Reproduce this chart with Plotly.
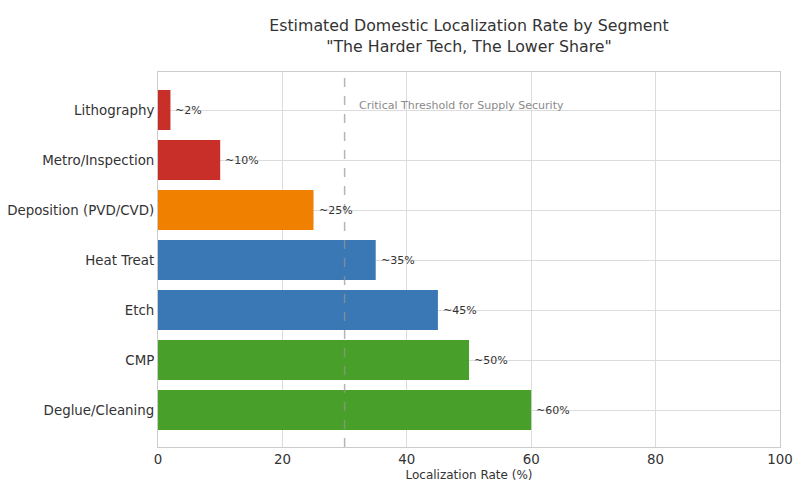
import plotly.graph_objects as go

categories = ["Deglue/Cleaning", "CMP", "Etch", "Heat Treat", "Deposition (PVD/CVD)",
              "Metro/Inspection", "Lithography"]
values = [60, 50, 45, 35, 25, 10, 2]
labels = ["~60%", "~50%", "~45%", "~35%", "~25%", "~10%", "~2%"]
colors = ["#48a02a", "#48a02a", "#3a77b5", "#3a77b5", "#f08000", "#c82f28", "#c82f28"]
x_ticks = [0, 20, 40, 60, 80, 100]
threshold = 30
threshold_label = "Critical Threshold for Supply Security"

FONT = "DejaVu Sans"

fig = go.Figure()
fig.add_trace(go.Bar(
    x=values, y=list(range(len(categories))), orientation="h",
    marker=dict(color=colors, line=dict(width=0)), width=0.8,
    hoverinfo="skip",
))

for i, (v, lab) in enumerate(zip(values, labels)):
    fig.add_annotation(x=v, y=i, text=lab, showarrow=False, xanchor="left",
                       yanchor="middle", xshift=3,
                       font=dict(family=FONT, size=11, color="#333333"))

fig.add_shape(type="line", x0=threshold, x1=threshold, y0=-0.74, y1=6.7,
              xref="x", yref="y", line=dict(color="rgba(150,150,150,0.7)", width=1.5, dash="dash"),
              layer="above")
fig.add_annotation(x=threshold + 2, y=6.1, text=threshold_label, showarrow=False,
                   xanchor="left", yanchor="middle",
                   font=dict(family=FONT, size=11, color="#8a8a8a"))

fig.update_layout(
    width=807, height=492,
    margin=dict(l=158, r=27, t=72, b=45),
    paper_bgcolor="white", plot_bgcolor="white",
    showlegend=False,
    title=dict(text="Estimated Domestic Localization Rate by Segment<br>\"The Harder Tech, The Lower Share\"",
               x=0.5, xref="paper", xanchor="center", y=0.937, yanchor="middle",
               font=dict(family=FONT, size=15.8, color="#333333")),
    font=dict(family=FONT, color="#333333"),
)
fig.update_xaxes(range=[0, 100], tickvals=x_ticks, ticktext=[str(t) for t in x_ticks],
                 showgrid=True, gridcolor="#dcdcdc", gridwidth=1,
                 showline=True, linecolor="#cccccc", mirror=True, zeroline=False,
                 ticks="", automargin=False,
                 tickfont=dict(family=FONT, size=13.4, color="#333333"),
                 title=dict(text="Localization Rate (%)", standoff=4,
                            font=dict(family=FONT, size=12, color="#333333")))
fig.update_yaxes(range=[-0.74, 6.76], tickvals=list(range(len(categories))), ticktext=categories,
                 showgrid=True, gridcolor="#dcdcdc", gridwidth=1,
                 showline=True, linecolor="#cccccc", mirror=True, zeroline=False,
                 ticks="", ticklabelstandoff=0, automargin=False,
                 tickfont=dict(family=FONT, size=13.4, color="#333333"))

fig.write_html("out.html", config={"displayModeBar": False},
               post_script="document.body.style.margin='0';")
